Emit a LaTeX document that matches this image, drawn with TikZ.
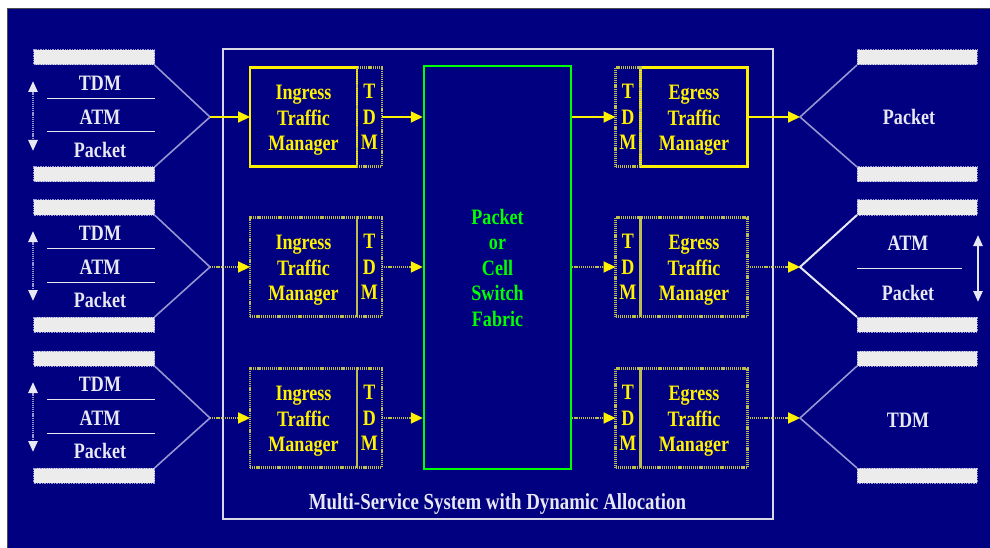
\documentclass[tikz,border=0pt]{standalone}
\usepackage{fontspec}
\setmainfont[FakeStretch=0.82]{Liberation Serif}
\usetikzlibrary{positioning,arrows.meta}
\definecolor{navy}{RGB}{0,0,128}
\definecolor{barfill}{RGB}{236,236,236}
\definecolor{lav}{RGB}{150,150,210}
\definecolor{ink}{RGB}{232,232,242}
\definecolor{dotyel}{RGB}{190,190,80}
\definecolor{sysline}{RGB}{215,215,230}
\newcommand{\tmstrut}{\rule{0pt}{21pt}}
\begin{document}
\begin{tikzpicture}[x=1pt,y=-1pt,
  txt/.style={font=\fontsize{22}{25.5}\selectfont\bfseries,align=center},
  lbl/.style={txt,text=ink,inner sep=0pt},
  bar/.style={draw=lav,fill=barfill,line width=1,dash pattern=on 1pt off 0.7pt,
    minimum width=121,minimum height=15,inner sep=0,outer sep=0},
  tmsolid/.style={txt,text=yellow,draw=yellow,line width=2.5,minimum width=107,
    minimum height=99,inner sep=0,outer sep=0},
  tmdot/.style={tmsolid,draw=dotyel,line width=2.2,dash pattern=on 1.2pt off 0.9pt},
  tdmbox/.style={tmdot,minimum width=25},
  feed/.style={draw=yellow,line width=2,-{Triangle[length=12,width=11,fill=yellow,color=yellow]}},
  feeddot/.style={feed,draw=dotyel,line width=2.2,dash pattern=on 1.2pt off 0.9pt},
  fan/.style={draw=lav,line width=1.6},
  sep/.style={draw=ink,line width=1},
  updown/.style={draw=lav,line width=2.5,dash pattern=on 1.2pt off 0.9pt,
    {Triangle[length=11,width=9,fill=ink,color=ink]}-{Triangle[length=11,width=9,fill=ink,color=ink]}}]
\useasboundingbox (0,0) rectangle (990,548);
\fill[white] (0,0) rectangle (990,548);
\fill[navy] (8,9) rectangle (990,548);
\draw[gray!60!black,line width=1] (7.5,548) -- (7.5,8.5) -- (990,8.5);
\node[draw=sysline,line width=2,minimum width=550,minimum height=469.5,inner sep=0] (sys) at (497.5,284.25) {};
\node[lbl,font=\fontsize{23}{25}\selectfont\bfseries] (title) at (497.5,503.5) {Multi-Service System with Dynamic Allocation};
\node[txt,text=green,draw=green,line width=2.5,minimum width=147,minimum height=403,inner sep=0] (fab) at (497.5,267.5)
  {Packet\\or\\Cell\\Switch\\Fabric};
\foreach \r/\c/\bx/\ar in {1/117/tmsolid/feed,2/267/tmdot/feeddot,3/418/tmdot/feeddot}{
  \node[\bx] (in\r) at (303.5,\c) {\tmstrut Ingress\\Traffic\\Manager};
  \node[tdmbox,right=0pt of in\r] (it\r) {T\\D\\M};
  \node[\bx] (eg\r) at (694,\c) {\tmstrut Egress\\Traffic\\Manager};
  \node[tdmbox,left=0pt of eg\r] (et\r) {T\\D\\M};
  \node[bar] (lt\r) at (94,\c-59.5) {};
  \node[bar] (lb\r) at (94,\c+57.5) {};
  \coordinate (lp\r) at (210,\c);
  \node[lbl] (lx\r) at (100,\c-33.5) {TDM};
  \node[lbl] (ly\r) at (100,\c) {ATM};
  \node[lbl] (lz\r) at (100,\c+33) {Packet};
  \draw[sep] (47,\c-18.5) -- (155,\c-18.5);
  \draw[sep] (47,\c+15) -- (155,\c+15);
  \coordinate (la\r) at (33,\c-36);
  \coordinate (lc\r) at (33,\c+34);
  \draw[updown] (la\r) -- (lc\r);
  \draw[fan] (lt\r.south east) -- (lp\r) -- (lb\r.north east);
  \node[bar,minimum width=120] (rt\r) at (917,\c-59.5) {};
  \node[bar,minimum width=120] (rb\r) at (917,\c+57.5) {};
  \coordinate (rp\r) at (800,\c);
  \draw[\ar] (lp\r) -- (in\r);
  \draw[\ar] (it\r.east) -- (it\r.east -| fab.west);
  \draw[\ar] (et\r.west -| fab.east) -- (et\r.west);
  \draw[\ar] (eg\r.east) -- (rp\r);
}
\draw[fan] (rt1.south west) -- (rp1) -- (rb1.north west);
\draw[fan,draw=ink,line width=2] (rt2.south west) -- (rp2) -- (rb2.north west);
\draw[fan] (rt3.south west) -- (rp3) -- (rb3.north west);
\node[lbl] (rx1) at (909,117) {Packet};
\node[lbl] (rx2) at (908,243) {ATM};
\node[lbl] (ry2) at (908,293) {Packet};
\draw[sep] (857,268) -- (962,268);
\coordinate (ra2) at (978,235);
\coordinate (rc2) at (978,302);
\draw[updown,draw=ink,solid] (ra2) -- (rc2);
\node[lbl] (rx3) at (908,420) {TDM};
\end{tikzpicture}
\end{document}
